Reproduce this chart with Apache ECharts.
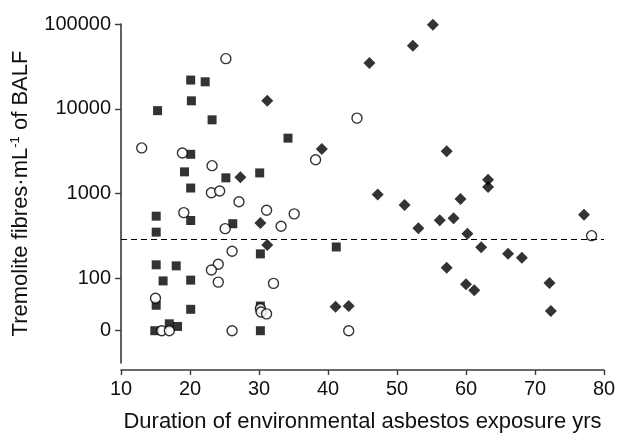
<!DOCTYPE html>
<html>
<head>
<meta charset="utf-8">
<script src="https://cdn.jsdelivr.net/npm/echarts@6/dist/echarts.min.js"></script>
<style>
html,body{margin:0;padding:0;background:#fff;}
#c{width:617px;height:440px;}
</style>
</head>
<body>
<div id="c"></div>
<script>
// Duration of exposure (yrs) and tremolite fibres per mL of BALF
var squareX = [15.3, 20.1, 22.2, 20.2, 23.2, 34.2, 20.1, 19.2, 25.2, 30.1, 20.1, 15.1, 20.1, 26.2, 15.1, 41.2, 30.2, 15.1, 18.0, 16.1, 20.1, 15.1, 20.1, 30.2, 14.9, 17.0, 18.2, 30.2];
var squareY = [9500, 21800, 20800, 12400, 7400, 4500, 2900, 1800, 1530, 1750, 1160, 540, 480, 440, 350, 234, 194, 144, 140, 93, 95, 48, 43, 47, 0, 29, 27, 0];

var circleX = [25.2, 44.2, 13.0, 18.9, 38.2, 23.2, 23.1, 24.3, 27.1, 19.1, 31.1, 35.1, 25.1, 33.2, 26.1, 24.1, 23.1, 24.1, 32.1, 15.0, 30.2, 30.3, 31.1, 15.9, 17.0, 26.1, 43.0, 78.2];
var circleY = [39000, 7750, 3450, 3000, 2500, 2130, 1020, 1070, 800, 595, 635, 575, 385, 410, 208, 146, 125, 90, 87, 58, 44, 40, 38, 0, 0, 0, 0, 318];

var diamondX = [31.2, 46.0, 55.2, 52.3, 39.1, 27.3, 30.2, 31.2, 41.1, 43.0, 57.2, 63.2, 63.2, 47.2, 51.1, 59.2, 53.1, 56.2, 58.2, 60.2, 62.2, 66.1, 68.1, 57.2, 60.0, 61.2, 72.1, 72.3, 77.1];
var diamondY = [12400, 34700, 98000, 55300, 3360, 1560, 450, 247, 46, 47, 3160, 1450, 1190, 970, 730, 860, 390, 485, 510, 336, 232, 195, 175, 133, 85, 72, 88, 41, 563];

var thresholdY = 290;

var yTickValues = [0, 100, 1000, 10000, 100000];
var yTickLabels = ['0', '100', '1000', '10000', '100000'];
var xTickLabels = ['10', '20', '30', '40', '50', '60', '70', '80'];

// axis scale: logarithmic, with the "0" row drawn at a fixed spot below 100
var ZERO_POS = 1.381;
function toAxis(v) { return v > 0 ? Math.log10(v) : ZERO_POS; }
var yTickPos = yTickValues.map(toAxis);

function pairs(xs, ys) {
  return xs.map(function (x, i) { return [x, toAxis(ys[i])]; });
}

var FONT = "'Liberation Sans', Arial, sans-serif";
var AXIS_COLOR = '#3a3a3a';

var chart = echarts.init(document.getElementById('c'), null, {renderer: 'canvas'});
chart.setOption({
  backgroundColor: '#ffffff',
  animation: false,
  grid: {left: 121, right: 13, top: 24, bottom: 77, containLabel: false, outerBoundsMode: 'none'},
  xAxis: {
    type: 'value',
    min: 10, max: 80, interval: 10,
    offset: 7,
    name: 'Duration of environmental asbestos exposure yrs',
    nameLocation: 'middle',
    nameGap: 41,
    nameTextStyle: {fontFamily: FONT, fontSize: 22, color: '#111'},
    axisLine: {show: true, onZero: false, lineStyle: {color: AXIS_COLOR, width: 1.6}},
    axisTick: {show: true, length: 5, lineStyle: {color: AXIS_COLOR, width: 1.4}},
    axisLabel: {
      margin: 9, fontFamily: FONT, fontSize: 20, color: '#111',
      formatter: function (v) { return xTickLabels[Math.round((v - 10) / 10)]; }
    },
    splitLine: {show: false}
  },
  yAxis: {
    type: 'value',
    min: 1, max: 5,
    name: 'Tremolite fibres·mL{sup|-1} of BALF',
    nameLocation: 'middle',
    nameGap: 85,
    nameTextStyle: {
      fontFamily: FONT, fontSize: 22, color: '#111', lineHeight: 24,
      rich: {
        sup: {fontFamily: FONT, fontSize: 13, color: '#111', verticalAlign: 'top', lineHeight: 14}
      }
    },
    axisLine: {show: true, onZero: false, lineStyle: {color: AXIS_COLOR, width: 1.6}},
    axisTick: {show: true, length: 6, customValues: yTickPos, lineStyle: {color: AXIS_COLOR, width: 1.4}},
    axisLabel: {
      margin: 10, fontFamily: FONT, fontSize: 20, color: '#111',
      customValues: yTickPos,
      formatter: function (v) {
        var best = 0, d = Infinity;
        for (var i = 0; i < yTickPos.length; i++) {
          var dd = Math.abs(yTickPos[i] - v);
          if (dd < d) { d = dd; best = i; }
        }
        return yTickLabels[best];
      }
    },
    splitLine: {show: false}
  },
  series: [
    {
      type: 'scatter',
      name: 'squares',
      symbol: 'rect',
      symbolSize: 9,
      itemStyle: {color: '#000'},
      data: pairs(squareX, squareY),
      markLine: {
        silent: true,
        symbol: ['none', 'none'],
        label: {show: false},
        lineStyle: {color: '#000', width: 1.2, type: [6, 4]},
        data: [[{coord: [10, toAxis(thresholdY)]}, {coord: [80, toAxis(thresholdY)]}]]
      }
    },
    {
      type: 'scatter',
      name: 'circles',
      symbol: 'circle',
      symbolSize: 10,
      itemStyle: {color: '#fff', borderColor: '#000', borderWidth: 1.4},
      data: pairs(circleX, circleY)
    },
    {
      type: 'scatter',
      name: 'diamonds',
      symbol: 'diamond',
      symbolSize: 12,
      itemStyle: {color: '#000'},
      data: pairs(diamondX, diamondY)
    }
  ]
});
</script>
</body>
</html>
